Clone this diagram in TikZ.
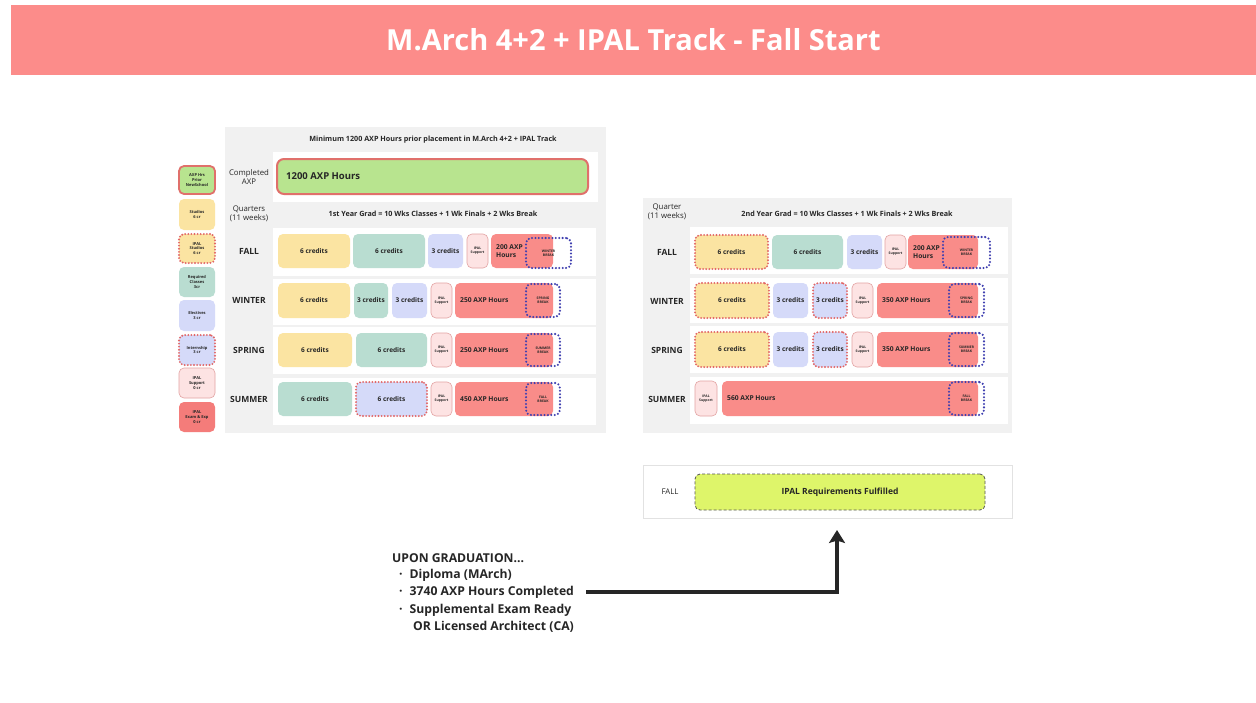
\documentclass[tikz,border=0pt]{standalone}
\usepackage{fontspec}
\setmainfont{Open Sans}
\usetikzlibrary{arrows.meta}
\definecolor{titlered}{HTML}{FC8C8A}
\definecolor{tgrey}{HTML}{F1F1F1}
\definecolor{yel}{HTML}{FBE4A2}
\definecolor{tealc}{HTML}{B9DDD1}
\definecolor{lav}{HTML}{D5DAF9}
\definecolor{sup}{HTML}{FDE3E3}
\definecolor{supline}{HTML}{E3A3A3}
\definecolor{axpred}{HTML}{F98C89}
\definecolor{legred}{HTML}{F47C7A}
\definecolor{grn}{HTML}{B8E48F}
\definecolor{grnline}{HTML}{E0706B}
\definecolor{dred}{HTML}{E26666}
\definecolor{dblue}{HTML}{3F3FB0}
\definecolor{lime}{HTML}{DEF56A}
\definecolor{limeline}{HTML}{555555}
\definecolor{txt}{HTML}{262626}
\definecolor{panelline}{HTML}{E2E2E2}
\newcommand\fsz[2]{\fontsize{#1}{#2}\selectfont}
\newcommand\mkbox[7]{%
  \node[box,#6,minimum width={(#4-#2)*1pt},minimum height={(#5-#3)*1pt}] (#1) at ({(#2+#4)/2},{(#3+#5)/2}) {#7};}
\newcommand\mkboxl[7]{%
  \node[box,#6,minimum width={(#4-#2)*1pt},minimum height={(#5-#3)*1pt}] (#1) at ({(#2+#4)/2},{(#3+#5)/2}) {};
  \node[rowtxt,anchor=west] (#1t) at ([xshift=5pt]#1.west) {#7};}
\begin{document}
\begin{tikzpicture}[x=1pt,y=-1pt,
  box/.style={rounded corners=5pt,inner sep=0pt,outer sep=0pt,align=center,text=txt,font=\fsz{6.5}{7.5}\bfseries},
  rowtxt/.style={inner sep=0pt,align=left,text=txt,font=\fsz{6.7}{7.8}\bfseries},
  sYel/.style={fill=yel},
  sTeal/.style={fill=tealc},
  sLav/.style={fill=lav},
  sSup/.style={fill=sup,draw=supline,line width=0.6pt,font=\fsz{3.4}{3.9}\bfseries},
  sRed/.style={fill=axpred},
  dotR/.style={draw=dred,line width=2.1pt,dash pattern=on 0pt off 3.1pt,line cap=round},
  dotB/.style={draw=dblue,line width=2.3pt,dash pattern=on 0pt off 3.4pt,line cap=round,font=\fsz{3.4}{3.9}\bfseries},
  leg/.style={font=\fsz{4}{4.7}\bfseries},
  rowlab/.style={inner sep=0pt,text=txt,font=\fsz{8.5}{10}\bfseries},
  collab/.style={inner sep=0pt,text=txt,align=center,font=\fsz{7.8}{9}},
  head/.style={inner sep=0pt,text=txt,font=\fsz{7.2}{8.5}\bfseries},
  grad/.style={inner sep=0pt,anchor=west,text=txt,font=\fsz{12.2}{14}\bfseries},
  arr/.style={line width=3.2pt,draw=txt,-{Stealth[width=16pt,length=13pt,inset=2.5pt]}}]
\useasboundingbox (0,0) rectangle (1256,702);
\fill[white] (0,0) rectangle (1256,702);
% title
\node[fill=titlered,minimum width=1245pt,minimum height=70pt,inner sep=0pt,text=white,font=\fsz{29}{33}\bfseries] (title) at (633.5,40) {M.Arch 4+2 + IPAL Track - Fall Start};
% legend
\mkbox{l1}{179}{166}{215}{194}{fill=grn,draw=grnline,line width=1.8pt,leg}{AXP Hrs\\Prior\\NewSchool}
\mkbox{l2}{179}{199}{215}{230}{sYel,leg}{Studios\\6 cr}
\mkbox{l3}{179}{234}{215}{263}{sYel,dotR,leg}{IPAL\\Studios\\6 cr}
\mkbox{l4}{179}{267}{215}{297}{sTeal,leg}{Required\\Classes\\3cr}
\mkbox{l5}{179}{300}{215}{331}{sLav,leg}{Electives\\3 cr}
\mkbox{l6}{179}{335}{215}{365}{sLav,dotR,leg}{Internship\\3 cr}
\mkbox{l7}{179}{368}{215}{398}{sSup,leg}{IPAL\\Support\\0 cr}
\mkbox{l8}{179}{402}{215}{432}{fill=legred,leg}{IPAL\\Exam \& Exp\\0 cr}
% left table
\fill[tgrey] (225,127) rectangle (606,433);
\fill[white] (273,152) rectangle (598,202);
\fill[white] (273,228) rectangle (596,276);
\fill[white] (273,279) rectangle (596,325);
\fill[white] (273,327) rectangle (596,374);
\fill[white] (273,378) rectangle (596,425);
\node[head] (hL) at (433,140) {Minimum 1200 AXP Hours prior placement in M.Arch 4+2 + IPAL Track};
\node[collab] (cAXP) at (249,177) {Completed\\AXP};
\mkbox{axp}{277}{159}{588}{194}{fill=grn,draw=grnline,line width=2pt,rounded corners=7pt}{}
\node[rowtxt,anchor=west,font=\fsz{9.5}{11}\bfseries] (axpt) at ([xshift=9pt]axp.west) {1200 AXP Hours};
\node[collab] (qL) at (249,214) {Quarters\\(11 weeks)};
\node[head] (y1) at (433,214) {1st Year Grad = 10 Wks Classes + 1 Wk Finals + 2 Wks Break};
\node[rowlab] (fL) at (249,251) {FALL};
\node[rowlab] (wL) at (249,300) {WINTER};
\node[rowlab] (sL) at (249,350) {SPRING};
\node[rowlab] (uL) at (249,399) {SUMMER};
% FALL
\mkbox{f1}{278}{234}{350}{268}{sYel}{6 credits}
\mkbox{f2}{353}{234}{425}{268}{sTeal}{6 credits}
\mkbox{f3}{428}{234}{463}{268}{sLav}{3 credits}
\mkbox{f4}{467}{234}{488}{268}{sSup}{IPAL\\Support}
\mkboxl{f5}{491}{234}{553}{268}{sRed}{200 AXP\\Hours}
\mkbox{f6}{526}{238}{571}{268}{dotB}{WINTER\\BREAK}
% WINTER
\mkbox{w1}{278}{283}{350}{318}{sYel}{6 credits}
\mkbox{w2}{354}{283}{388}{318}{sTeal}{3 credits}
\mkbox{w3}{392}{283}{427}{318}{sLav}{3 credits}
\mkbox{w4}{431}{283}{452}{318}{sSup}{IPAL\\Support}
\mkboxl{w5}{455}{283}{553}{318}{sRed}{250 AXP Hours}
\mkbox{w6}{526}{284}{560}{317}{dotB}{SPRING\\BREAK}
% SPRING
\mkbox{s1}{278}{333}{352}{367}{sYel}{6 credits}
\mkbox{s2}{356}{333}{427}{367}{sTeal}{6 credits}
\mkbox{s4}{431}{333}{452}{367}{sSup}{IPAL\\Support}
\mkboxl{s5}{455}{333}{553}{367}{sRed}{250 AXP Hours}
\mkbox{s6}{526}{334}{560}{366}{dotB}{SUMMER\\BREAK}
% SUMMER
\mkbox{u1}{278}{382}{352}{416}{sTeal}{6 credits}
\mkbox{u2}{356}{382}{427}{416}{sLav,dotR}{6 credits}
\mkbox{u4}{431}{382}{452}{416}{sSup}{IPAL\\Support}
\mkboxl{u5}{455}{382}{553}{416}{sRed}{450 AXP Hours}
\mkbox{u6}{526}{383}{560}{415}{dotB}{FALL\\BREAK}
% right table
\fill[tgrey] (643,198) rectangle (1012,433);
\fill[white] (690,227) rectangle (1008,274);
\fill[white] (690,278) rectangle (1008,323);
\fill[white] (690,326) rectangle (1008,373);
\fill[white] (690,377) rectangle (1008,424);
\node[collab] (qR) at (667,212) {Quarter\\(11 weeks)};
\node[head] (y2) at (847,214) {2nd Year Grad = 10 Wks Classes + 1 Wk Finals + 2 Wks Break};
\node[rowlab] (fR) at (667,252) {FALL};
\node[rowlab] (wR) at (667,301) {WINTER};
\node[rowlab] (sR) at (667,350) {SPRING};
\node[rowlab] (uR) at (667,399) {SUMMER};
% FALL
\mkbox{F1}{695}{235}{768}{269}{sYel,dotR}{6 credits}
\mkbox{F2}{772}{235}{843}{269}{sTeal}{6 credits}
\mkbox{F3}{847}{235}{882}{269}{sLav}{3 credits}
\mkbox{F4}{885}{235}{906}{269}{sSup}{IPAL\\Support}
\mkboxl{F5}{908}{235}{978}{269}{sRed}{200 AXP\\Hours}
\mkbox{F6}{943}{237}{990}{268}{dotB}{WINTER\\BREAK}
% WINTER
\mkbox{W1}{695}{283}{769}{318}{sYel,dotR}{6 credits}
\mkbox{W2}{773}{283}{808}{318}{sLav}{3 credits}
\mkbox{W3}{813}{283}{847}{318}{sLav,dotR}{3 credits}
\mkbox{W4}{852}{283}{873}{318}{sSup}{IPAL\\Support}
\mkboxl{W5}{877}{283}{978}{318}{sRed}{350 AXP Hours}
\mkbox{W6}{949}{284}{984}{317}{dotB}{SPRING\\BREAK}
% SPRING
\mkbox{S1}{695}{332}{769}{367}{sYel,dotR}{6 credits}
\mkbox{S2}{773}{332}{808}{367}{sLav}{3 credits}
\mkbox{S3}{813}{332}{847}{367}{sLav,dotR}{3 credits}
\mkbox{S4}{852}{332}{873}{367}{sSup}{IPAL\\Support}
\mkboxl{S5}{877}{332}{978}{367}{sRed}{350 AXP Hours}
\mkbox{S6}{949}{333}{984}{366}{dotB}{SUMMER\\BREAK}
% SUMMER
\mkbox{U4}{695}{381}{717}{416}{sSup}{IPAL\\Support}
\mkboxl{U5}{722}{381}{978}{416}{sRed}{560 AXP Hours}
\mkbox{U6}{949}{382}{984}{415}{dotB}{FALL\\BREAK}
% bottom FALL panel
\mkbox{panel}{643}{465}{1012}{518}{fill=white,draw=panelline,line width=0.8pt,rounded corners=0pt}{}
\node[collab] (fB) at (670,492) {FALL};
\mkbox{ipal}{695}{474}{985}{510}{fill=lime,draw=limeline,line width=0.8pt,dash pattern=on 3pt off 2pt,font=\fsz{8.5}{10}\bfseries}{IPAL Requirements Fulfilled}
% graduation text
\node[grad] (g0) at (392,558) {UPON GRADUATION...};
\node[grad] (g1) at (399,575) {·\hspace{7pt}Diploma (MArch)};
\node[grad] (g2) at (399,592) {·\hspace{7pt}3740 AXP Hours Completed};
\node[grad] (g3) at (399,610) {·\hspace{7pt}Supplemental Exam Ready};
\node[grad] (g4) at (413,627) {OR Licensed Architect (CA)};
\coordinate (tip) at (837,530);
\draw[arr,shorten <=12pt] (g2.east) -| (tip);
\end{tikzpicture}
\end{document}
